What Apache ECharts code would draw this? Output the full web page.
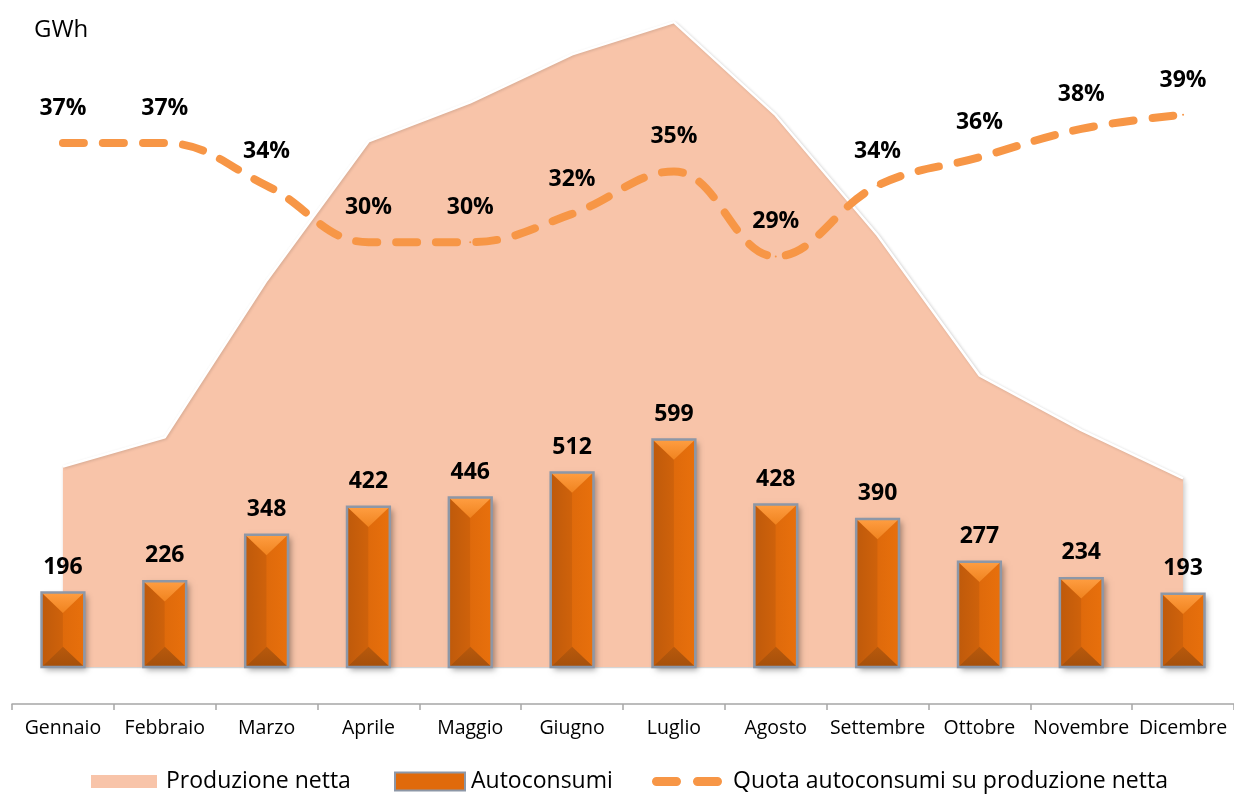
<!DOCTYPE html>
<html>
<head>
<meta charset="utf-8">
<title>Produzione netta e autoconsumi</title>
<script src="https://cdn.jsdelivr.net/npm/echarts@6/dist/echarts.min.js"></script>
<style>
  html, body { margin: 0; padding: 0; background: #ffffff; }
  #chart { width: 1234px; height: 796px; }
</style>
</head>
<body>
<div id="chart"></div>
<script>
// Months on the category axis
const months = ['Gennaio', 'Febbraio', 'Marzo', 'Aprile', 'Maggio', 'Giugno',
  'Luglio', 'Agosto', 'Settembre', 'Ottobre', 'Novembre', 'Dicembre'];

// Net production (GWh), drawn as the background area
const produzioneNetta = [528, 605, 1018, 1384, 1487, 1613, 1698, 1453, 1137, 768, 624, 497];

// Self-consumption (GWh), drawn as bevelled bars
const autoconsumi = [196, 226, 348, 422, 446, 512, 599, 428, 390, 277, 234, 193];

// Self-consumption share of net production (%)
const quota = [37, 37, 34, 30, 30, 32, 35, 29, 34, 36, 38, 39];

const FONT = '"Open Sans", "DejaVu Sans", sans-serif';
const LINE_COLOR = '#F79646';

const barData = autoconsumi.map((v, i) => [i, v]);

// Legend swatch for the dashed line: two rounded dashes
const DASH_ICON = 'path://M4.5,0 H24.5 A4.5,4.5 0 0 1 24.5,9 H4.5 A4.5,4.5 0 0 1 4.5,0 Z ' +
  'M45.5,0 H65.5 A4.5,4.5 0 0 1 65.5,9 H45.5 A4.5,4.5 0 0 1 45.5,0 Z';

// Bevelled bar: four faces meeting at the bar's centre line, grey frame, value on top
function renderBevelBar(params, api) {
  const i = api.value(0);
  const v = api.value(1);
  const top = api.coord([i, v]);
  const base = api.coord([i, 0]);
  const w = api.size([1, 0])[0] * 0.42;
  const cx = top[0];
  const x0 = cx - w / 2, x1 = cx + w / 2;
  const y0 = top[1], y1 = base[1];
  const h = y1 - y0;
  const b = Math.min(w / 2 * 0.95, h / 2);
  return {
    type: 'group',
    children: [
      {
        type: 'rect',
        shape: { x: x0, y: y0, width: w, height: h },
        style: {
          fill: '#D8650B',
          shadowBlur: 6, shadowColor: 'rgba(0,0,0,0.35)',
          shadowOffsetX: 3, shadowOffsetY: 3
        }
      },
      {
        type: 'polygon',
        shape: { points: [[x0, y0], [cx, y0 + b], [cx, y1 - b], [x0, y1]] },
        style: {
          fill: new echarts.graphic.LinearGradient(0, 0, 1, 0, [
            { offset: 0, color: '#BF5A0B' }, { offset: 1, color: '#CF620B' }
          ])
        }
      },
      {
        type: 'polygon',
        shape: { points: [[cx, y0 + b], [x1, y0], [x1, y1], [cx, y1 - b]] },
        style: {
          fill: new echarts.graphic.LinearGradient(0, 0, 1, 0, [
            { offset: 0, color: '#DF6A0B' }, { offset: 1, color: '#E8700C' }
          ])
        }
      },
      {
        type: 'polygon',
        shape: { points: [[x0, y0], [x1, y0], [cx, y0 + b]] },
        style: {
          fill: new echarts.graphic.LinearGradient(0, 0, 0, 1, [
            { offset: 0, color: '#FF9E42' }, { offset: 1, color: '#F0831F' }
          ])
        }
      },
      {
        type: 'polygon',
        shape: { points: [[x0, y1], [cx, y1 - b], [x1, y1]] },
        style: {
          fill: new echarts.graphic.LinearGradient(0, 0, 0, 1, [
            { offset: 0, color: '#B8590C' }, { offset: 1, color: '#A5500B' }
          ])
        }
      },
      {
        type: 'rect',
        shape: { x: x0, y: y0, width: w, height: h },
        style: { fill: null, stroke: '#8D97A7', lineWidth: 2.5 }
      },
      {
        type: 'text',
        x: cx,
        y: y0 - 14,
        style: {
          text: String(v),
          align: 'center',
          verticalAlign: 'bottom',
          fill: '#000000',
          font: 'bold 23px ' + FONT
        }
      }
    ]
  };
}

const chart = echarts.init(document.getElementById('chart'), null, { renderer: 'canvas' });

chart.setOption({
  animation: false,
  backgroundColor: '#ffffff',
  textStyle: { fontFamily: FONT },
  title: {
    text: 'GWh',
    left: 29,
    top: 13,
    textStyle: { fontFamily: FONT, fontSize: 24, fontWeight: 'normal', color: '#000000' }
  },
  legend: [
    {
      data: [{ name: 'Produzione netta', icon: 'rect' }],
      left: 86, top: 765,
      itemWidth: 66, itemHeight: 13,
      textStyle: { fontFamily: FONT, fontSize: 23, color: '#000000', padding: [0, 0, 0, 4] }
    },
    {
      data: [{ name: 'Autoconsumi', icon: 'rect' }],
      left: 389, top: 765,
      itemWidth: 70, itemHeight: 18,
      textStyle: { fontFamily: FONT, fontSize: 23, color: '#000000', padding: [0, 0, 0, 1] }
    },
    {
      data: [{
        name: 'Quota autoconsumi su produzione netta',
        icon: DASH_ICON,
        itemStyle: { color: LINE_COLOR, opacity: 1 }
      }],
      left: 647, top: 765,
      itemWidth: 70, itemHeight: 9,
      textStyle: { fontFamily: FONT, fontSize: 23, color: '#000000', padding: [0, 0, 0, 6] }
    }
  ],
  grid: { left: 12, right: 0, top: 10, bottom: 129, containLabel: false },
  xAxis: {
    type: 'category',
    data: months,
    boundaryGap: true,
    position: 'bottom',
    offset: 37,
    axisLine: { show: true, onZero: false, lineStyle: { color: '#A6A6A6', width: 1.5 } },
    axisTick: { show: true, length: 6, lineStyle: { color: '#A6A6A6', width: 1.5 } },
    axisLabel: { fontFamily: FONT, fontSize: 19.5, color: '#000000', margin: 14, interval: 0 },
    splitLine: { show: false }
  },
  yAxis: [
    { type: 'value', min: 0, max: 1730, show: false, splitLine: { show: false } },
    { type: 'value', min: 0, max: 46.4, show: false, splitLine: { show: false } }
  ],
  series: [
    {
      name: 'Produzione netta',
      type: 'line',
      data: produzioneNetta,
      symbol: 'none',
      z: 1,
      itemStyle: { color: '#F8C4A9' },
      lineStyle: {
        color: '#FFFFFF', width: 2.5,
        shadowColor: 'rgba(0,0,0,0.15)', shadowBlur: 3, shadowOffsetX: 1, shadowOffsetY: 1
      },
      areaStyle: {
        color: '#F8C4A9', opacity: 1,
        shadowColor: 'rgba(0,0,0,0.2)', shadowBlur: 5, shadowOffsetX: 2, shadowOffsetY: 3
      }
    },
    {
      name: 'Autoconsumi',
      type: 'custom',
      data: barData,
      encode: { x: 0, y: 1 },
      renderItem: renderBevelBar,
      z: 3,
      itemStyle: { color: '#E06A0B', borderColor: '#8D97A7', borderWidth: 2 }
    },
    {
      name: 'Quota autoconsumi su produzione netta',
      type: 'line',
      yAxisIndex: 1,
      data: quota,
      smooth: 0.4,
      symbol: 'circle',
      symbolSize: 2,
      showSymbol: true,
      z: 4,
      itemStyle: { color: LINE_COLOR },
      lineStyle: { color: LINE_COLOR, width: 8, type: [21, 19], cap: 'round' },
      label: {
        show: true,
        position: 'top',
        distance: 22,
        formatter: '{c}%',
        fontFamily: FONT,
        fontSize: 23,
        fontWeight: 'bold',
        color: '#000000'
      },
      labelLayout: { hideOverlap: false }
    }
  ]
});
</script>
</body>
</html>
